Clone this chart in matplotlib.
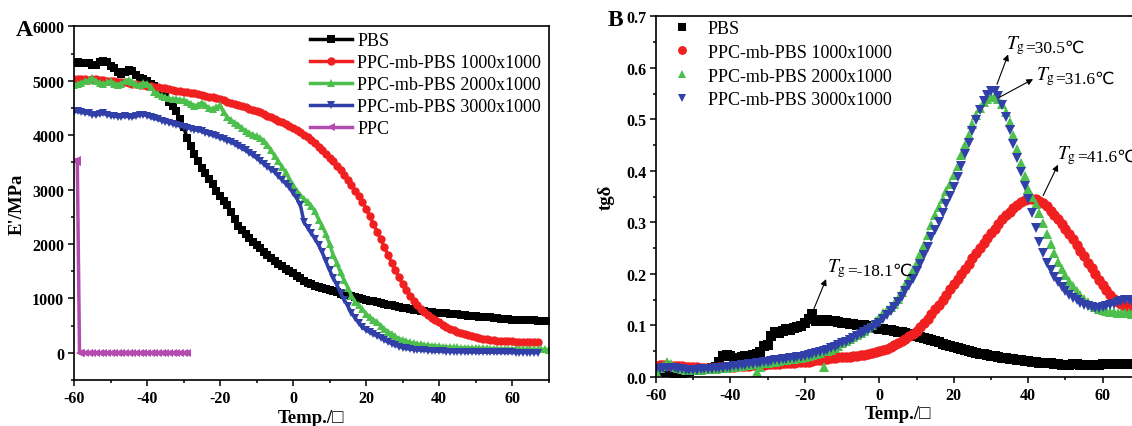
import numpy as np
import matplotlib
matplotlib.use("Agg")
import matplotlib.pyplot as plt
from matplotlib.ticker import MultipleLocator

plt.rcParams['font.family'] = ['Liberation Serif', 'DejaVu Serif']
plt.rcParams['mathtext.fontset'] = 'stix'
plt.rcParams['axes.unicode_minus'] = False

# ---- panel A: storage modulus E' (MPa) vs temperature, 1 C steps ----
temp_a = np.arange(-60, 71)        # -60 .. 70
temp_a_short = np.arange(-60, 68)  # -60 .. 67

pbs_modulus = [
    5330, 5340, 5330, 5320, 5320, 5300, 5290, 5340, 5360, 5340,
    5280, 5240, 5170, 5130, 5170, 5200, 5190, 5100, 5060, 5030,
    5000, 4950, 4900, 4840, 4780, 4700, 4620, 4530, 4450, 4300,
    4150, 3950, 3800, 3650, 3520, 3400, 3300, 3200, 3100, 2980,
    2880, 2800, 2710, 2590, 2460, 2340, 2260, 2180, 2110, 2040,
    1980, 1920, 1860, 1800, 1740, 1690, 1640, 1590, 1540, 1500,
    1460, 1420, 1380, 1320, 1290, 1260, 1230, 1210, 1190, 1170,
    1150, 1130, 1110, 1090, 1070, 1055, 1040, 1020, 1000, 990,
    975, 960, 945, 930, 915, 900, 885, 870, 855, 840,
    825, 815, 805, 795, 785, 775, 765, 755, 745, 740,
    735, 730, 725, 715, 710, 705, 700, 690, 685, 680,
    670, 665, 660, 655, 650, 645, 640, 630, 620, 615,
    610, 605, 605, 600, 600, 595, 595, 590, 590, 585, 585]

mb1000_modulus = [
    5030, 5030, 5040, 5030, 5020, 5030, 5040, 5020, 5010, 5000,
    5000, 4990, 4980, 4980, 4970, 4960, 4950, 4940, 4930, 4920,
    4910, 4900, 4890, 4880, 4870, 4860, 4850, 4840, 4820, 4810,
    4800, 4790, 4780, 4770, 4750, 4740, 4730, 4710, 4700, 4680,
    4660, 4640, 4620, 4600, 4580, 4560, 4540, 4520, 4490, 4470,
    4440, 4420, 4390, 4360, 4330, 4300, 4270, 4240, 4210, 4170,
    4140, 4100, 4060, 4010, 3960, 3910, 3850, 3790, 3730, 3660,
    3590, 3520, 3440, 3360, 3270, 3180, 3080, 2980, 2880, 2780,
    2650, 2510, 2370, 2230, 2090, 1950, 1800, 1660, 1520, 1390,
    1260, 1150, 1050, 960, 880, 810, 750, 690, 640, 600,
    560, 520, 480, 440, 420, 390, 370, 350, 330, 310,
    290, 275, 260, 250, 240, 230, 225, 220, 215, 210,
    210, 205, 205, 200, 200, 200, 195, 195]

mb2000_modulus = [
    4920, 4940, 4960, 4990, 5010, 5050, 5000, 4960, 4940, 4970,
    4990, 4950, 4930, 4950, 4990, 5020, 4980, 4940, 4920, 4960,
    4950, 4880, 4800, 4760, 4720, 4700, 4680, 4660, 4670, 4650,
    4640, 4620, 4580, 4540, 4560, 4600, 4550, 4500, 4480, 4520,
    4550, 4420, 4330, 4280, 4230, 4190, 4130, 4080, 4040, 4010,
    3980, 3950, 3900, 3820, 3720, 3620, 3520, 3420, 3320, 3200,
    3080, 2980, 2900, 2830, 2780, 2700, 2600, 2450, 2330, 2180,
    2000, 1800, 1650, 1480, 1330, 1200, 1050, 930, 870, 800,
    720, 650, 610, 560, 500, 440, 390, 340, 300, 260,
    240, 215, 195, 180, 165, 155, 145, 138, 132, 126,
    120, 115, 110, 105, 100, 98, 95, 92, 90, 88,
    86, 84, 82, 80, 78, 76, 75, 74, 72, 70,
    70, 68, 67, 66, 65, 64, 63, 62, 62, 61, 60]

mb3000_modulus = [
    4430, 4440, 4420, 4410, 4400, 4380, 4370, 4390, 4400, 4380,
    4360, 4350, 4340, 4340, 4350, 4340, 4330, 4350, 4370, 4380,
    4360, 4330, 4310, 4290, 4270, 4250, 4230, 4210, 4190, 4170,
    4160, 4140, 4120, 4100, 4090, 4070, 4050, 4020, 4000, 3980,
    3950, 3930, 3900, 3870, 3840, 3800, 3760, 3720, 3680, 3630,
    3580, 3530, 3470, 3420, 3370, 3320, 3250, 3180, 3110, 3040,
    2940, 2840, 2720, 2400, 2300, 2200, 2100, 1980, 1850, 1680,
    1520, 1380, 1250, 1100, 980, 860, 740, 640, 550, 470,
    420, 380, 340, 310, 280, 240, 200, 170, 140, 115,
    95, 80, 70, 60, 55, 50, 45, 40, 35, 30,
    28, 26, 24, 22, 20, 18, 16, 15, 14, 13,
    12, 11, 10, 10, 9, 8, 8, 7, 7, 6,
    6, 5, 5, 5, 4, 4, 4, 4]

ppc_temp = [-59.3, -59.1, -58.5, -58, -57, -56, -55, -54, -53, -52, -51, -50,
            -49, -48, -47, -46, -45, -44, -43, -42, -41, -40, -39, -38, -37,
            -36, -35, -34, -33, -32, -31, -30, -29]
ppc_modulus = [3550, 3500, 0, 0, 0, 0, 0, 0, 0, 0, 0, 0,
               0, 0, 0, 0, 0, 0, 0, 0, 0, 0, 0, 0, 0,
               0, 0, 0, 0, 0, 0, 0, 0]

# ---- panel B: tan delta vs temperature, 1 C steps ----
temp_b = np.arange(-60, 71)

pbs_tand = [
    0.015, 0.013, 0.012, 0.010, 0.012, 0.006, 0.010, 0.006, 0.010, 0.012,
    0.014, 0.015, 0.015, 0.016, 0.016, 0.018, 0.020, 0.030, 0.040, 0.043,
    0.040, 0.037, 0.036, 0.038, 0.040, 0.040, 0.042, 0.045, 0.048, 0.060,
    0.063, 0.080, 0.087, 0.085, 0.090, 0.093, 0.092, 0.095, 0.097, 0.099,
    0.105, 0.112, 0.122, 0.108, 0.110, 0.108, 0.110, 0.109, 0.108, 0.106,
    0.105, 0.104, 0.103, 0.102, 0.101, 0.100, 0.100, 0.098, 0.096, 0.095,
    0.094, 0.093, 0.092, 0.091, 0.090, 0.088, 0.087, 0.085, 0.083, 0.081,
    0.079, 0.077, 0.075, 0.073, 0.071, 0.069, 0.067, 0.064, 0.062, 0.060,
    0.058, 0.056, 0.054, 0.052, 0.050, 0.048, 0.047, 0.045, 0.044, 0.042,
    0.041, 0.040, 0.039, 0.037, 0.036, 0.035, 0.034, 0.033, 0.032, 0.031,
    0.031, 0.030, 0.029, 0.028, 0.028, 0.027, 0.027, 0.026, 0.025, 0.024,
    0.024, 0.024, 0.025, 0.025, 0.024, 0.023, 0.023, 0.023, 0.024, 0.024,
    0.025, 0.025, 0.025, 0.026, 0.026, 0.026, 0.026, 0.026, 0.026, 0.026, 0.026]

mb1000_tand = [
    0.022, 0.024, 0.024, 0.023, 0.022, 0.022, 0.021, 0.021, 0.020, 0.020,
    0.019, 0.019, 0.018, 0.018, 0.018, 0.018, 0.018, 0.019, 0.019, 0.019,
    0.020, 0.020, 0.021, 0.021, 0.022, 0.022, 0.023, 0.023, 0.024, 0.024,
    0.025, 0.025, 0.026, 0.026, 0.027, 0.027, 0.028, 0.028, 0.029, 0.029,
    0.030, 0.030, 0.031, 0.032, 0.033, 0.034, 0.035, 0.036, 0.037, 0.038,
    0.038, 0.039, 0.039, 0.040, 0.041, 0.042, 0.043, 0.045, 0.047, 0.048,
    0.050, 0.052, 0.055, 0.058, 0.062, 0.066, 0.070, 0.074, 0.079, 0.084,
    0.090, 0.097, 0.105, 0.113, 0.122, 0.131, 0.140, 0.150, 0.160, 0.170,
    0.180, 0.190, 0.200, 0.210, 0.220, 0.230, 0.240, 0.250, 0.260, 0.270,
    0.279, 0.288, 0.297, 0.306, 0.314, 0.321, 0.328, 0.334, 0.339, 0.343,
    0.345, 0.346, 0.345, 0.342, 0.337, 0.331, 0.323, 0.315, 0.306, 0.297,
    0.288, 0.278, 0.267, 0.256, 0.245, 0.234, 0.222, 0.211, 0.200, 0.189,
    0.179, 0.169, 0.160, 0.152, 0.146, 0.141, 0.138, 0.136, 0.135, 0.134, 0.133]

mb2000_tand = [
    0.012, 0.018, 0.022, 0.030, 0.025, 0.020, 0.018, 0.016, 0.014, 0.013,
    0.013, 0.014, 0.014, 0.015, 0.015, 0.016, 0.016, 0.017, 0.018, 0.018,
    0.019, 0.020, 0.021, 0.022, 0.023, 0.024, 0.025, 0.010, 0.020, 0.027,
    0.028, 0.029, 0.030, 0.031, 0.032, 0.033, 0.034, 0.035, 0.036, 0.037,
    0.039, 0.040, 0.042, 0.044, 0.046, 0.020, 0.050, 0.053, 0.057, 0.061,
    0.065, 0.069, 0.073, 0.077, 0.081, 0.085, 0.090, 0.095, 0.100, 0.108,
    0.115, 0.125, 0.130, 0.135, 0.142, 0.152, 0.165, 0.178, 0.192, 0.207,
    0.222, 0.238, 0.256, 0.275, 0.295, 0.314, 0.330, 0.345, 0.360, 0.375,
    0.392, 0.410, 0.430, 0.450, 0.470, 0.490, 0.508, 0.522, 0.533, 0.540,
    0.544, 0.545, 0.540, 0.530, 0.515, 0.495, 0.470, 0.443, 0.415, 0.390,
    0.365, 0.350, 0.335, 0.318, 0.298, 0.278, 0.258, 0.240, 0.224, 0.210,
    0.197, 0.186, 0.176, 0.167, 0.159, 0.152, 0.146, 0.140, 0.136, 0.132,
    0.130, 0.128, 0.127, 0.126, 0.125, 0.125, 0.124, 0.124, 0.123, 0.123, 0.122]

mb3000_tand = [
    0.015, 0.016, 0.017, 0.018, 0.018, 0.017, 0.016, 0.015, 0.014, 0.014,
    0.014, 0.014, 0.015, 0.015, 0.016, 0.016, 0.017, 0.017, 0.018, 0.019,
    0.020, 0.021, 0.022, 0.023, 0.024, 0.025, 0.026, 0.027, 0.028, 0.029,
    0.030, 0.031, 0.032, 0.033, 0.034, 0.035, 0.036, 0.037, 0.038, 0.039,
    0.040, 0.042, 0.044, 0.046, 0.048, 0.050, 0.053, 0.056, 0.059, 0.062,
    0.065, 0.068, 0.072, 0.076, 0.080, 0.084, 0.088, 0.092, 0.096, 0.100,
    0.105, 0.112, 0.120, 0.128, 0.136, 0.145, 0.155, 0.166, 0.178, 0.191,
    0.205, 0.220, 0.236, 0.253, 0.271, 0.286, 0.300, 0.318, 0.336, 0.352,
    0.368, 0.388, 0.410, 0.432, 0.455, 0.477, 0.498, 0.518, 0.535, 0.548,
    0.555, 0.555, 0.545, 0.527, 0.505, 0.480, 0.453, 0.425, 0.397, 0.370,
    0.345, 0.318, 0.290, 0.262, 0.240, 0.222, 0.207, 0.195, 0.184, 0.175,
    0.167, 0.160, 0.154, 0.149, 0.144, 0.140, 0.137, 0.135, 0.134, 0.134,
    0.135, 0.137, 0.140, 0.142, 0.145, 0.148, 0.150, 0.150, 0.148, 0.147, 0.146]

series_labels = ["PBS", "PPC-mb-PBS 1000x1000", "PPC-mb-PBS 2000x1000",
                 "PPC-mb-PBS 3000x1000", "PPC"]
colors = ["black", "#f02020", "#4cbf4c", "#3040a8", "#b24cae"]
markers = ["s", "o", "^", "v", "<"]

# (value text, arrow tail, arrow head, text position)
tg_notes = [
    ("=-18.1℃", (-17.6, 0.132), (-14.3, 0.190), (-14.0, 0.205)),
    ("=30.5℃", (31.6, 0.568), (34.6, 0.626), (34.0, 0.638)),
    ("=31.6℃", (32.3, 0.543), (41.3, 0.578), (42.0, 0.578)),
    ("=41.6℃", (44.0, 0.352), (48.0, 0.412), (47.8, 0.425)),
]


def style_axes(ax):
    for sp in ax.spines.values():
        sp.set_linewidth(1.2)
    ax.tick_params(which="major", direction="out", length=4.5, width=1.1,
                   labelsize=11.5, pad=2.5)
    ax.tick_params(which="minor", direction="out", length=2.5, width=1.1)
    for lab in ax.get_xticklabels() + ax.get_yticklabels():
        lab.set_fontweight("bold")


def tg_label(ax, x, y, value):
    # italic T with subscript g, then the value in a font that has the degree sign
    t1 = ax.text(x, y, r"$T_{\rm g}$", fontsize=14, ha="left", va="baseline")
    ax.annotate(value, xy=(1, 0), xycoords=t1, xytext=(0.2, 3.2),
                textcoords="offset points", fontsize=12.5, ha="left",
                va="baseline", family=["Liberation Serif", "DejaVu Sans"])


def main():
    fig = plt.figure(figsize=(11.32, 4.27), dpi=100)

    # panel A
    axA = fig.add_axes([0.0654, 0.1077, 0.4192, 0.828])
    a_data = [(temp_a, pbs_modulus), (temp_a_short, mb1000_modulus),
              (temp_a, mb2000_modulus), (temp_a_short, mb3000_modulus),
              (ppc_temp, ppc_modulus)]
    for (xx, yy), lab, col, mk in zip(a_data, series_labels, colors, markers):
        axA.plot(xx, yy, color=col, marker=mk, markersize=6, linewidth=2.5,
                 markeredgewidth=0, label=lab)
    axA.set_xlim(-60, 70)
    axA.set_ylim(-500, 6000)
    axA.xaxis.set_major_locator(MultipleLocator(20))
    axA.xaxis.set_minor_locator(MultipleLocator(10))
    axA.yaxis.set_minor_locator(MultipleLocator(500))
    axA.set_yticks([0, 1000, 2000, 3000, 4000, 5000, 6000])
    style_axes(axA)
    axA.set_xlabel("Temp./□", fontsize=13.5, fontweight="bold", labelpad=2)
    axA.set_ylabel("E'/MPa", fontsize=13.5, fontweight="bold", labelpad=5)
    axA.legend(loc="upper left", bbox_to_anchor=(0.475, 1.015), frameon=False,
               fontsize=13, handlelength=2.3, handletextpad=0.3,
               labelspacing=0.28, borderaxespad=0.2)
    fig.text(0.014, 0.928, "A", fontsize=17, fontweight="bold", va="center")

    # panel B
    axB = fig.add_axes([0.5795, 0.1148, 0.4275, 0.8447])
    b_data = [pbs_tand, mb1000_tand, mb2000_tand, mb3000_tand]
    for yy, lab, col, mk in zip(b_data, series_labels[:4], colors, markers):
        axB.plot(temp_b, yy, linestyle="none", color=col, marker=mk,
                 markersize=7.5, markeredgewidth=0, label=lab)
    axB.set_xlim(-60, 70)
    axB.set_ylim(0, 0.7)
    axB.xaxis.set_major_locator(MultipleLocator(20))
    axB.xaxis.set_minor_locator(MultipleLocator(10))
    axB.yaxis.set_major_locator(MultipleLocator(0.1))
    axB.yaxis.set_minor_locator(MultipleLocator(0.05))
    axB.yaxis.set_major_formatter(plt.FormatStrFormatter("%.1f"))
    style_axes(axB)
    axB.set_xlabel("Temp./□", fontsize=13.5, fontweight="bold", labelpad=2)
    axB.set_ylabel("tgδ", fontsize=13.5, fontweight="bold", labelpad=8)
    axB.legend(loc="upper left", bbox_to_anchor=(-0.005, 1.02), frameon=False,
               fontsize=13, handlelength=2.0, handletextpad=0.4,
               labelspacing=0.38, borderaxespad=0.2, markerscale=0.85)

    for value, tail, head, tpos in tg_notes:
        axB.annotate("", xy=head, xytext=tail,
                     arrowprops=dict(arrowstyle="-|>", color="black", lw=0.8,
                                     mutation_scale=9, shrinkA=0, shrinkB=0))
        tg_label(axB, tpos[0], tpos[1], value)
    fig.text(0.537, 0.953, "B", fontsize=17, fontweight="bold", va="center")

    fig.savefig("out.png", dpi=100)


if __name__ == "__main__":
    main()
